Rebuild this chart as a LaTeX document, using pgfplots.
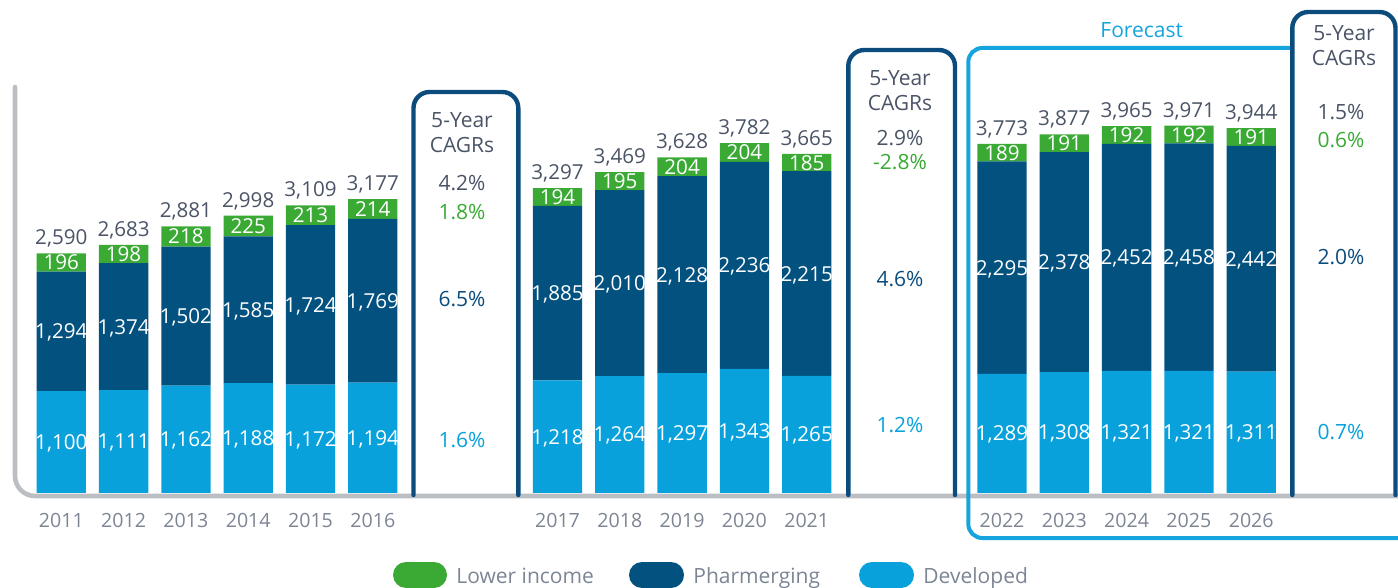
\documentclass[border=0pt]{standalone}
\usepackage{pgfplots}
\pgfplotsset{compat=1.18}
\usepackage{pgfplotstable}
\usepackage{fontspec}
\setmainfont{Open Sans}
\definecolor{cgreen}{HTML}{3AAA35}
\definecolor{cdark}{HTML}{02517F}
\definecolor{clight}{HTML}{09A1DC}
\definecolor{cbox}{HTML}{0B4C7D}
\definecolor{cfc}{HTML}{16A4DE}
\definecolor{ctext}{HTML}{4A5466}
\definecolor{cyear}{HTML}{7C8594}
\definecolor{cgray}{HTML}{BBBFC4}
\newcommand\valfont{\fontsize{10.3}{12}\selectfont}
\newcommand\yrfont{\fontsize{9.8}{12}\selectfont}
\newcommand\cfont{\fontsize{10.5}{12}\selectfont}
\pgfkeys{/pgf/number format/.cd, 1000 sep={,}, assume math mode=true}
\pgfplotstableread{
x d p g t year
61.3 1100 1294 196 2590 2011
123.6 1111 1374 198 2683 2012
185.9 1162 1502 218 2881 2013
248.2 1188 1585 225 2998 2014
310.5 1172 1724 213 3109 2015
372.8 1194 1769 214 3177 2016
557.5 1218 1885 194 3297 2017
619.8 1264 2010 195 3469 2018
682.1 1297 2128 204 3628 2019
744.4 1343 2236 204 3782 2020
806.7 1265 2215 185 3665 2021
1002.0 1289 2295 189 3773 2022
1064.3 1308 2378 191 3877 2023
1126.6 1321 2452 192 3965 2024
1188.9 1321 2458 192 3971 2025
1251.2 1311 2442 191 3944 2026
}\data
\begin{document}
\begin{tikzpicture}
\pgfplotsset{base/.style={scale only axis, width=699pt, height=294pt, xmin=0, xmax=1398, hide axis, clip=false, at={(0,0)}, anchor=south west}}
\begin{axis}[base, ymin=-1027.03, ymax=5329.73, ybar stacked, bar width=49.3]
\addplot[fill=clight, draw=none] table[x=x,y=d]{\data};
\addplot[fill=cdark, draw=none] table[x=x,y=p]{\data};
\addplot[fill=cgreen, draw=none] table[x=x,y=g]{\data};
\end{axis}
\begin{axis}[base, ymin=0, ymax=588, y dir=reverse]
% axis line
\draw[cgray, line width=2.3pt, line cap=round, rounded corners=10pt] (axis cs:15,87) -- (axis cs:15,496) -- (axis cs:1410,496);
% labels
\addplot[draw=none, mark=none, nodes near coords, point meta=explicit,
  every node near coord/.append style={anchor=center, text=white, font=\valfont, text depth=0pt, inner sep=0pt}]
  table[x=x, y expr={493-0.0925*\thisrow{d}/2}, meta=d]{\data};
\addplot[draw=none, mark=none, nodes near coords, point meta=explicit,
  every node near coord/.append style={anchor=center, text=white, font=\valfont, text depth=0pt, inner sep=0pt}]
  table[x=x, y expr={493-0.0925*(\thisrow{d}+\thisrow{p}/2)}, meta=p]{\data};
\addplot[draw=none, mark=none, nodes near coords, point meta=explicit,
  every node near coord/.append style={anchor=center, text=white, font=\valfont, text depth=0pt, inner sep=0pt}]
  table[x=x, y expr={493-0.0925*(\thisrow{d}+\thisrow{p}+\thisrow{g}/2)}, meta=g]{\data};
\addplot[draw=none, mark=none, nodes near coords, point meta=explicit,
  every node near coord/.append style={anchor=center, text=ctext, font=\valfont, text depth=0pt, inner sep=0pt}]
  table[x=x, y expr={493-0.0925*\thisrow{t}-16}, meta=t]{\data};
\addplot[draw=none, mark=none, nodes near coords, point meta=explicit symbolic,
  every node near coord/.append style={anchor=center, text=cyear, font=\yrfont, text depth=0pt, inner sep=0pt}]
  table[x=x, y expr=520, meta=year]{\data};
% forecast box
\draw[cfc, line width=2pt, rounded corners=7pt] (axis cs:1292,48) -- (axis cs:968.3,48) -- (axis cs:968.3,538) -- (axis cs:1410,538);
\node[text=cfc, font=\cfont] at (axis cs:1141.7,30) {Forecast};
% CAGR boxes
\draw[cbox, line width=2.2pt, line cap=round, rounded corners=8pt] (axis cs:413.5,495) -- (axis cs:413.5,92) -- (axis cs:518.3,92) -- (axis cs:518.3,495);
\draw[cbox, line width=2.2pt, line cap=round, rounded corners=8pt] (axis cs:848.3,495) -- (axis cs:848.3,50) -- (axis cs:955,50) -- (axis cs:955,495);
\draw[cbox, line width=2.2pt, line cap=round, rounded corners=8pt] (axis cs:1292.3,495) -- (axis cs:1292.3,12) -- (axis cs:1395.5,12) -- (axis cs:1395.5,495);
\begin{scope}[every node/.style={font=\cfont, inner sep=0pt}]
\node[text=ctext] at (axis cs:462,120) {5-Year};
\node[text=ctext] at (axis cs:462,145) {CAGRs};
\node[text=ctext] at (axis cs:462,183) {4.2\%};
\node[text=cgreen] at (axis cs:462,212) {1.8\%};
\node[text=cbox] at (axis cs:462,299) {6.5\%};
\node[text=clight] at (axis cs:462,440) {1.6\%};
\node[text=ctext] at (axis cs:900,78) {5-Year};
\node[text=ctext] at (axis cs:900,103) {CAGRs};
\node[text=ctext] at (axis cs:900,138) {2.9\%};
\node[text=cgreen] at (axis cs:900,162) {-2.8\%};
\node[text=cbox] at (axis cs:900,279) {4.6\%};
\node[text=clight] at (axis cs:900,425) {1.2\%};
\node[text=ctext] at (axis cs:1344,33) {5-Year};
\node[text=ctext] at (axis cs:1344,58) {CAGRs};
\node[text=ctext] at (axis cs:1341,112) {1.5\%};
\node[text=cgreen] at (axis cs:1341,140) {0.6\%};
\node[text=cbox] at (axis cs:1341,257) {2.0\%};
\node[text=clight] at (axis cs:1341,432) {0.7\%};
\end{scope}
% legend
\fill[cgreen, rounded corners=6.5pt] (axis cs:393,562) rectangle (axis cs:447,588);
\fill[cdark, rounded corners=6.5pt] (axis cs:629,562) rectangle (axis cs:684,588);
\fill[clight, rounded corners=6.5pt] (axis cs:859,562) rectangle (axis cs:914,588);
\begin{scope}[every node/.style={font=\cfont, inner sep=0pt, anchor=base west, text=cyear}]
\node at (axis cs:456,583) {Lower income};
\node at (axis cs:693,583) {Pharmerging};
\node at (axis cs:923,583) {Developed};
\end{scope}
\end{axis}
\pgfresetboundingbox
\useasboundingbox (0,0) rectangle (699pt,294pt);
\end{tikzpicture}
\end{document}
